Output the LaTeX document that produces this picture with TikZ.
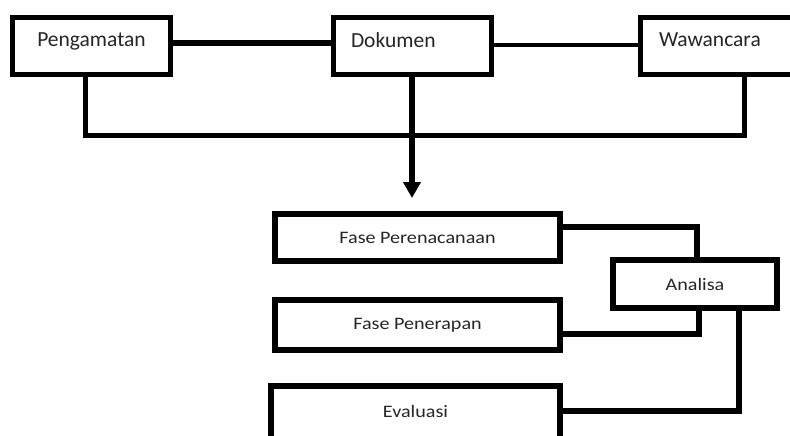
\documentclass[tikz,border=0pt]{standalone}
\usepackage{fontspec}
\usepackage{graphicx}
\setmainfont{Carlito}
\usetikzlibrary{arrows.meta}
\newcommand{\widetext}[1]{\scalebox{1.15}[1]{#1}}
\tikzset{
  topbox/.style={draw=black, line width=5pt, fill=white, inner sep=0pt,
    minimum width=158pt, minimum height=57pt, text depth=12pt,
    font=\fontsize{21.5}{25}\selectfont, text=black!85},
  lowbox/.style={draw=black, line width=6pt, fill=white, inner sep=0pt,
    font=\fontsize{17.5}{21}\selectfont, text=black!85},
  conn/.style={draw=black, line width=5pt},
}
\begin{document}
\begin{tikzpicture}[x=1pt,y=-1pt]
\clip (0,0) rectangle (790,436);
\fill[white] (0,0) rectangle (790,436);

% top row
\node[topbox] (peng) at (91.5,46) {Pengamatan};
\node[topbox, text width=123pt, inner xsep=17.5pt, align=left] (dok) at (412.5,46) {Dokumen};
\node[topbox, minimum width=159.5pt, text width=122.5pt, inner xsep=18.5pt, align=left] (waw) at (720.25,46) {Wawancara};

\draw[conn, line width=6pt] (peng.east |- 0,43.5) -- (dok.west |- 0,43.5);
\draw[conn, line width=4pt] (dok.east |- 0,45) -- (waw.west |- 0,45);

% bracket
\draw[conn] (peng.south -| 85,0) -- (85,135.5) -- (744.5,135.5) -- (waw.south -| 744.5,0);

% arrow
\draw[conn, line width=6pt, -{Triangle[width=17pt,length=16pt]}] (dok.south -| 412,0) -- (412,198);

% lower boxes
\node[lowbox, minimum width=285pt, minimum height=47pt] (fp) at (417.5,237.5) {\widetext{Fase Perenacanaan}};
\node[lowbox, minimum width=164pt, minimum height=48pt] (ana) at (695,284) {\widetext{Analisa}};
\node[lowbox, minimum width=285pt, minimum height=50pt] (fpn) at (417.5,325) {\widetext{Fase Penerapan}};
\node[lowbox, minimum width=289pt, minimum height=59pt, text depth=9pt] (eval) at (415.5,415.5) {\widetext{Evaluasi}};

% lower connectors
\draw[conn, line width=6pt] (fp.east |- 0,227) -- (697,227) -- (ana.north -| 697,0);
\draw[conn, line width=6pt] (fpn.east |- 0,333.5) -- (699,333.5) -- (ana.south -| 699,0);
\draw[conn, line width=6pt] (ana.south -| 739,0) -- (739,410.5) -- (eval.east |- 0,410.5);
\end{tikzpicture}
\end{document}
